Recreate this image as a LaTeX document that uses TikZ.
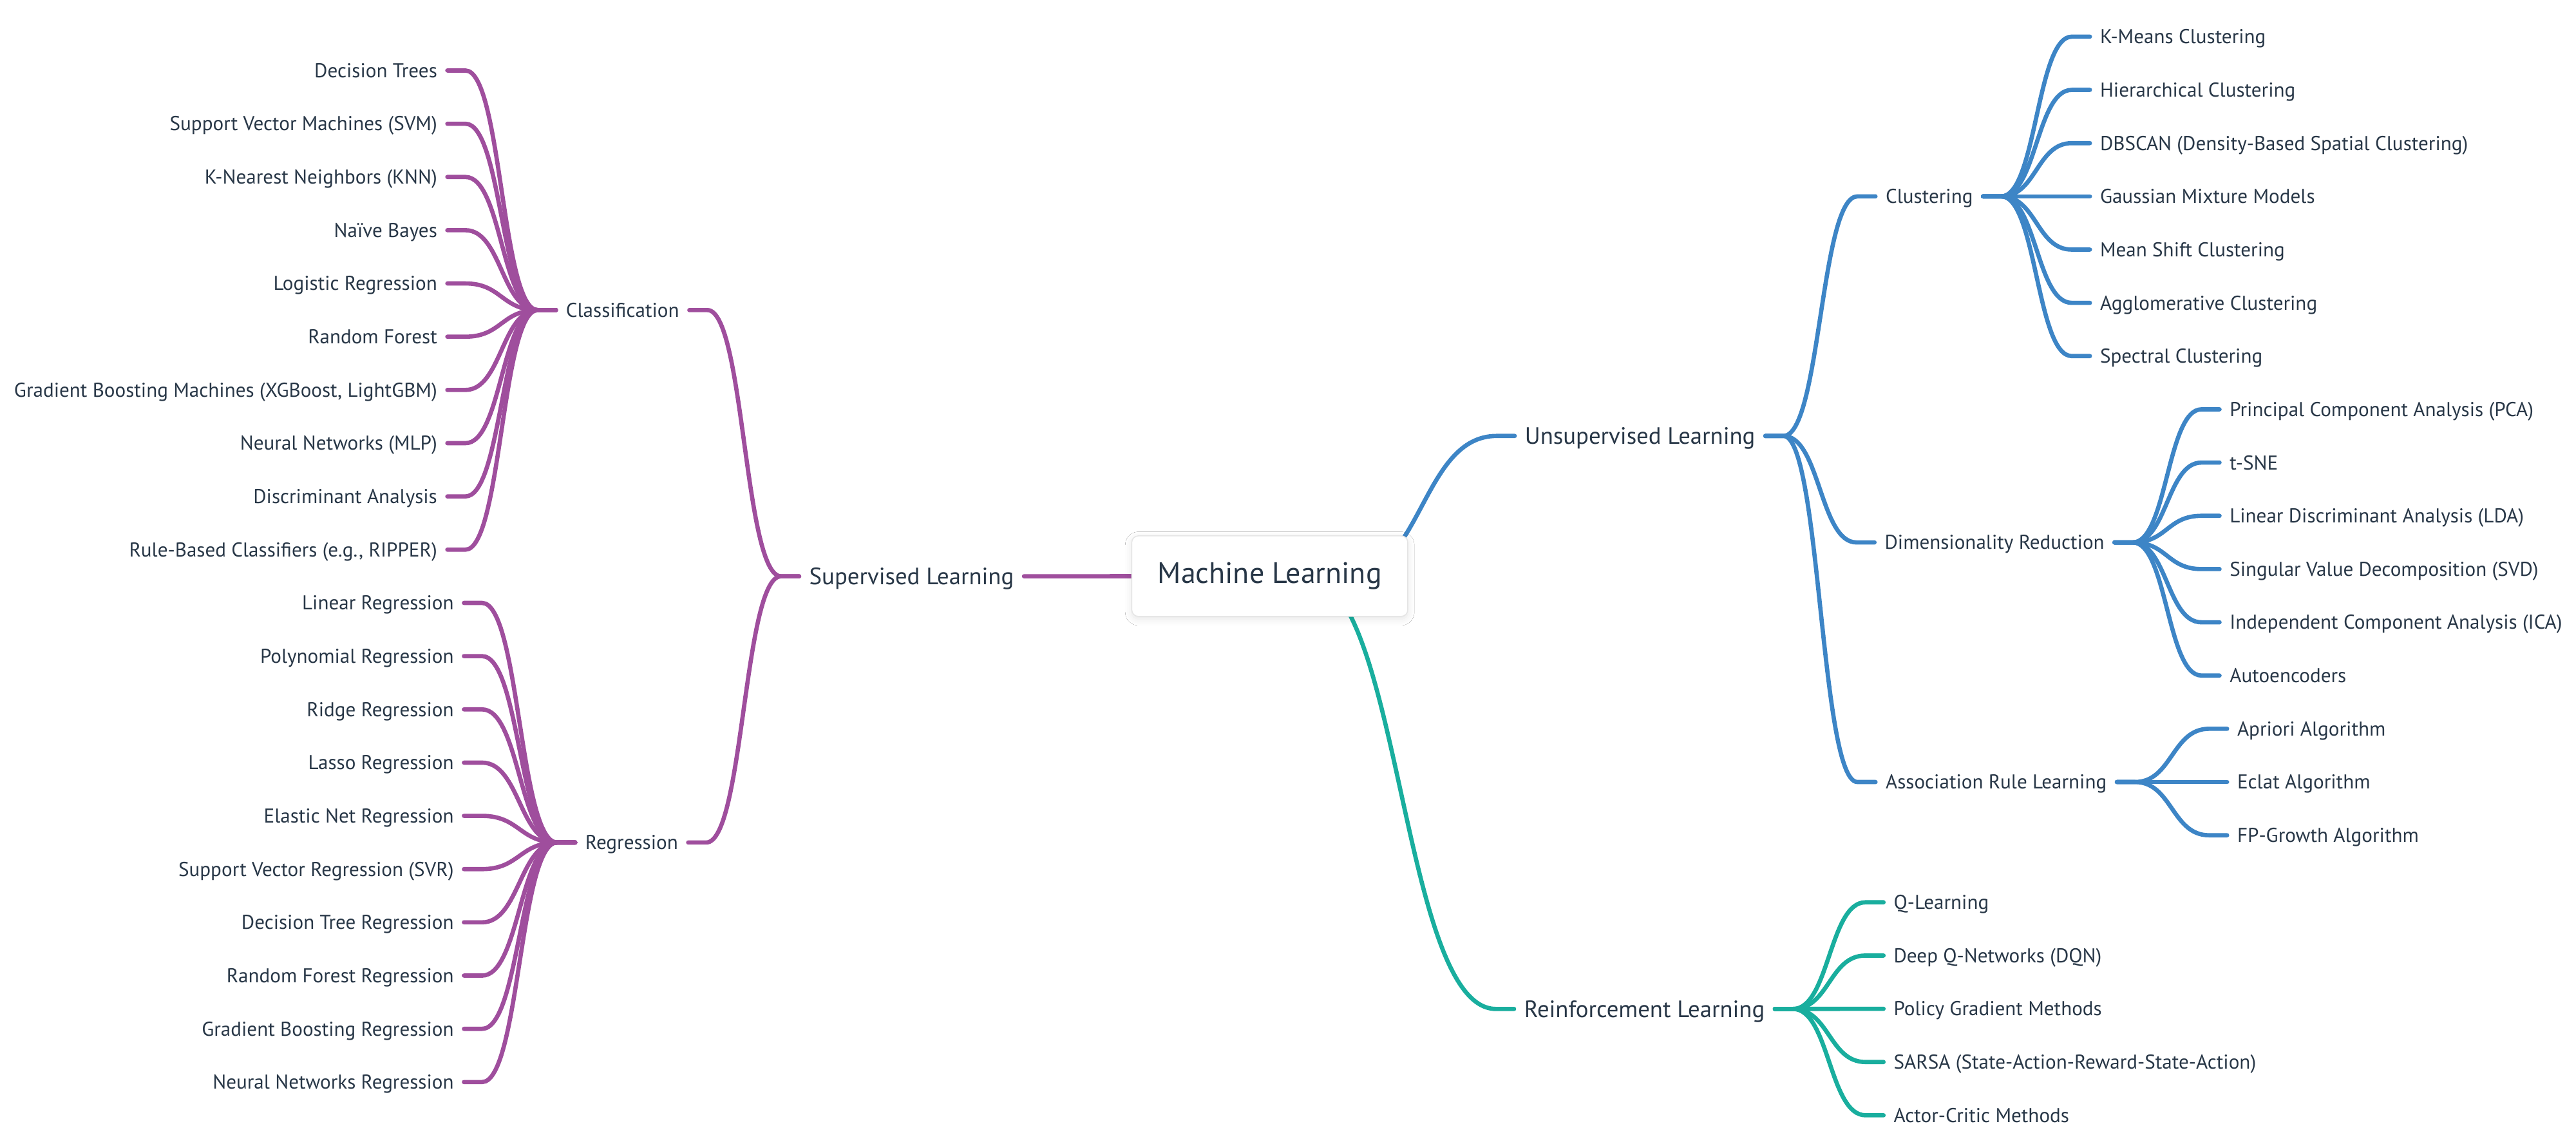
\documentclass[tikz,border=0pt]{standalone}
\usepackage{fontspec}
\setmainfont{PT Sans}
\usetikzlibrary{calc,backgrounds,shadows.blur}
\definecolor{txt}{HTML}{283747}
\definecolor{supc}{HTML}{9F4E9D}
\definecolor{unsc}{HTML}{3D85C6}
\definecolor{reic}{HTML}{19AE9E}
\newcommand\mmlinkR[3]{%
  \draw[lk,#3] let \p1=([xshift=11pt]#1.east), \p2=([xshift=-11pt]#2.west) in
    (#1.east) -- (\p1) .. controls ({(\x1+\x2)/2},\y1) and ({(\x1+\x2)/2},\y2) .. (\p2) -- (#2.west);}
\newcommand\mmlinkL[3]{%
  \draw[lk,#3] let \p1=([xshift=-11pt]#1.west), \p2=([xshift=11pt]#2.east) in
    (#1.west) -- (\p1) .. controls ({(\x1+\x2)/2},\y1) and ({(\x1+\x2)/2},\y2) .. (\p2) -- (#2.east);}
\begin{document}
\begin{tikzpicture}[x=1pt,y=-1pt,
  lbl/.style={inner xsep=6pt, inner ysep=0pt, text height=8.54pt, text depth=0pt,
    text=txt, font=\fontsize{12.2}{14}\selectfont},
  lvl/.style={lbl, text height=10.1pt, font=\fontsize{14.4}{16}\selectfont},
  R/.style={anchor=west}, L/.style={anchor=east},
  lk/.style={line width=2.6pt, line cap=round},
  rootbox/.style={draw=black!10, line width=0.6pt, fill=white, rounded corners=4pt,
    minimum width=168pt, minimum height=49pt, inner sep=0pt, text=txt,
    font=\fontsize{18}{20}\selectfont,
    blur shadow={shadow blur radius=4pt, shadow opacity=10, shadow xshift=0pt, shadow yshift=-1.5pt}}
]
\useasboundingbox (0,0) rectangle (1568,695.8);

% ---- level 1 and 2 ----
\node[lvl,L] (sup) at (623.3,350.7) {Supervised Learning};
\node[lvl,R] (uns) at (922,265.3) {Unsupervised Learning};
\node[lvl,R] (rei) at (921.6,614) {Reinforcement Learning};

\node[lbl,L] (cls) at (419.6,188.7) {Classification};
\node[lbl,L] (reg) at (418.9,512.7) {Regression};
\node[lbl,R] (clu) at (1141.6,119.5) {Clustering};
\node[lbl,R] (dim) at (1141,330.1) {Dimensionality Reduction};
\node[lbl,R] (arl) at (1141.6,475.9) {Association Rule Learning};

% ---- Classification leaves ----
\node[lbl,L] (c1) at (272.3,42.9) {Decision Trees};
\node[lbl,L] (c2) at (272.3,75.3) {Support Vector Machines (SVM)};
\node[lbl,L] (c3) at (272.3,107.7) {K-Nearest Neighbors (KNN)};
\node[lbl,L] (c4) at (272.3,140.1) {Naïve Bayes};
\node[lbl,L] (c5) at (272.3,172.5) {Logistic Regression};
\node[lbl,L] (c6) at (272.3,204.9) {Random Forest};
\node[lbl,L] (c7) at (272.3,237.3) {Gradient Boosting Machines (XGBoost, LightGBM)};
\node[lbl,L] (c8) at (272.3,269.7) {Neural Networks (MLP)};
\node[lbl,L] (c9) at (272.3,302.1) {Discriminant Analysis};
\node[lbl,L] (c10) at (272.3,334.5) {Rule-Based Classifiers (e.g., RIPPER)};
% ---- Regression leaves ----
\node[lbl,L] (r1) at (282.4,366.9) {Linear Regression};
\node[lbl,L] (r2) at (282.4,399.3) {Polynomial Regression};
\node[lbl,L] (r3) at (282.4,431.7) {Ridge Regression};
\node[lbl,L] (r4) at (282.4,464.1) {Lasso Regression};
\node[lbl,L] (r5) at (282.4,496.5) {Elastic Net Regression};
\node[lbl,L] (r6) at (282.4,528.9) {Support Vector Regression (SVR)};
\node[lbl,L] (r7) at (282.4,561.3) {Decision Tree Regression};
\node[lbl,L] (r8) at (282.4,593.7) {Random Forest Regression};
\node[lbl,L] (r9) at (282.4,626.1) {Gradient Boosting Regression};
\node[lbl,L] (r10) at (282.4,658.5) {Neural Networks Regression};
% ---- Clustering leaves ----
\node[lbl,R] (k1) at (1272.1,22.3) {K-Means Clustering};
\node[lbl,R] (k2) at (1272.1,54.7) {Hierarchical Clustering};
\node[lbl,R] (k3) at (1272.1,87.1) {DBSCAN (Density-Based Spatial Clustering)};
\node[lbl,R] (k4) at (1272.1,119.5) {Gaussian Mixture Models};
\node[lbl,R] (k5) at (1272.1,151.9) {Mean Shift Clustering};
\node[lbl,R] (k6) at (1272.1,184.3) {Agglomerative Clustering};
\node[lbl,R] (k7) at (1272.1,216.7) {Spectral Clustering};
% ---- Dimensionality reduction leaves ----
\node[lbl,R] (d1) at (1351,249.1) {Principal Component Analysis (PCA)};
\node[lbl,R] (d2) at (1351,281.5) {t-SNE};
\node[lbl,R] (d3) at (1351,313.9) {Linear Discriminant Analysis (LDA)};
\node[lbl,R] (d4) at (1351,346.3) {Singular Value Decomposition (SVD)};
\node[lbl,R] (d5) at (1351,378.7) {Independent Component Analysis (ICA)};
\node[lbl,R] (d6) at (1351,411.1) {Autoencoders};
% ---- Association rule leaves ----
\node[lbl,R] (a1) at (1355.6,443.5) {Apriori Algorithm};
\node[lbl,R] (a2) at (1355.6,475.9) {Eclat Algorithm};
\node[lbl,R] (a3) at (1355.6,508.3) {FP-Growth Algorithm};
% ---- Reinforcement leaves ----
\node[lbl,R] (q1) at (1146.5,549.1) {Q-Learning};
\node[lbl,R] (q2) at (1146.5,581.5) {Deep Q-Networks (DQN)};
\node[lbl,R] (q3) at (1146.5,613.9) {Policy Gradient Methods};
\node[lbl,R] (q4) at (1146.5,646.3) {SARSA (State-Action-Reward-State-Action)};
\node[lbl,R] (q5) at (1146.5,678.7) {Actor-Critic Methods};

% ---- root ----
\node[rootbox] (root) at (772.9,350.6) {Machine Learning};
\coordinate (rsU) at ([xshift=47pt]root.center);
\coordinate (rsR) at ([xshift=22pt]root.center);

\begin{pgfonlayer}{background}
  \fill[white] (0,0) rectangle (1568,695.8);
  % root links
  \draw[lk,supc] (root.center) -- (sup.east);
  \draw[lk,unsc] let \p1=(rsU), \p2=([xshift=-11pt]uns.west) in
    (rsU) .. controls ({(\x1+\x2)/2},\y1) and ({(\x1+\x2)/2},\y2) .. (\p2) -- (uns.west);
  \draw[lk,reic] let \p1=(rsR), \p2=([xshift=-11pt]rei.west) in
    (rsR) .. controls ({(\x1+\x2)/2},\y1) and ({(\x1+\x2)/2},\y2) .. (\p2) -- (rei.west);
  % supervised
  \mmlinkL{sup}{cls}{supc}
  \mmlinkL{sup}{reg}{supc}
  \foreach \leaf in {c1,c2,c3,c4,c5,c6,c7,c8,c9,c10} {\mmlinkL{cls}{\leaf}{supc}}
  \foreach \leaf in {r1,r2,r3,r4,r5,r6,r7,r8,r9,r10} {\mmlinkL{reg}{\leaf}{supc}}
  % unsupervised
  \mmlinkR{uns}{clu}{unsc}
  \mmlinkR{uns}{dim}{unsc}
  \mmlinkR{uns}{arl}{unsc}
  \foreach \leaf in {k1,k2,k3,k4,k5,k6,k7} {\mmlinkR{clu}{\leaf}{unsc}}
  \foreach \leaf in {d1,d2,d3,d4,d5,d6} {\mmlinkR{dim}{\leaf}{unsc}}
  \foreach \leaf in {a1,a2,a3} {\mmlinkR{arl}{\leaf}{unsc}}
  % reinforcement
  \foreach \leaf in {q1,q2,q3,q4,q5} {\mmlinkR{rei}{\leaf}{reic}}
\end{pgfonlayer}
\end{tikzpicture}
\end{document}
